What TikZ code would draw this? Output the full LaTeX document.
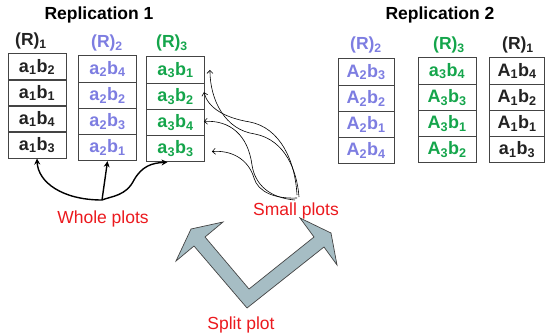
\documentclass[tikz,border=0pt]{standalone}
\usepackage{fontspec}
\setmainfont{Liberation Sans}
\usetikzlibrary{arrows.meta,calc}
\definecolor{ink}{HTML}{222222}
\definecolor{violetish}{RGB}{125,125,225}
\definecolor{greenish}{RGB}{20,165,75}
\definecolor{redlabel}{RGB}{235,25,30}
\definecolor{splitfill}{RGB}{166,189,196}
\definecolor{rulegray}{HTML}{444444}
\newcommand\sbs[1]{\textsubscript{#1}}
\begin{document}
\begin{tikzpicture}[x=1pt,y=-1pt,
  cell/.style={draw=rulegray,line width=0.9pt,minimum width=58pt,minimum height=26.2pt,
    inner sep=0pt,font=\fontsize{18}{20}\selectfont\bfseries},
  title/.style={font=\fontsize{17.5}{20}\selectfont\bfseries},
  rlabel/.style={font=\fontsize{17.5}{20}\selectfont\bfseries},
  note/.style={text=redlabel,font=\fontsize{17.5}{20}\selectfont},
  whole/.style={line width=1.4pt,-{Stealth[length=6pt,width=6pt]}},
  small/.style={line width=0.6pt,-{Straight Barb[length=3pt,width=6pt]}}]
\useasboundingbox (0,0) rectangle (545,334);

% Replication 1
\node[title] (rep1) at (99,15) {Replication 1};
\node[rlabel,text=ink] (r1a) at (31,41) {(R)\sbs{1}};
\node[rlabel,text=violetish] (r1b) at (107,43) {(R)\sbs{2}};
\node[rlabel,text=greenish] (r1c) at (172,43) {(R)\sbs{3}};

\node[cell,text=ink] (c11) at (37,67) {a\sbs{1}b\sbs{2}};
\node[cell,text=ink] (c12) at (37,93) {a\sbs{1}b\sbs{1}};
\node[cell,text=ink] (c13) at (37,119) {a\sbs{1}b\sbs{4}};
\node[cell,text=ink] (c14) at (37,145) {a\sbs{1}b\sbs{3}};

\node[cell,text=violetish] (c21) at (107.5,69) {a\sbs{2}b\sbs{4}};
\node[cell,text=violetish] (c22) at (107.5,95.2) {a\sbs{2}b\sbs{2}};
\node[cell,text=violetish] (c23) at (107.5,121.4) {a\sbs{2}b\sbs{3}};
\node[cell,text=violetish] (c24) at (107.5,147.6) {a\sbs{2}b\sbs{1}};

\node[cell,text=greenish] (c31) at (175.5,70) {a\sbs{3}b\sbs{1}};
\node[cell,text=greenish] (c32) at (175.5,96.2) {a\sbs{3}b\sbs{2}};
\node[cell,text=greenish] (c33) at (175.5,122.4) {a\sbs{3}b\sbs{4}};
\node[cell,text=greenish] (c34) at (175.5,148.6) {a\sbs{3}b\sbs{3}};

% Replication 2
\node[title] (rep2) at (440,15) {Replication 2};
\node[rlabel,text=violetish] (r2a) at (366,45) {(R)\sbs{2}};
\node[rlabel,text=greenish] (r2b) at (449,45) {(R)\sbs{3}};
\node[rlabel,text=ink] (r2c) at (518,45) {(R)\sbs{1}};

\node[cell,text=violetish,minimum width=56pt] (d11) at (366,72) {A\sbs{2}b\sbs{3}};
\node[cell,text=violetish,minimum width=56pt] (d12) at (366,98.2) {A\sbs{2}b\sbs{2}};
\node[cell,text=violetish,minimum width=56pt] (d13) at (366,124.4) {A\sbs{2}b\sbs{1}};
\node[cell,text=violetish,minimum width=56pt] (d14) at (366,150.6) {A\sbs{2}b\sbs{4}};

\node[cell,text=greenish] (d21) at (447,71) {a\sbs{3}b\sbs{4}};
\node[cell,text=greenish] (d22) at (447,97.2) {A\sbs{3}b\sbs{3}};
\node[cell,text=greenish] (d23) at (447,123.4) {A\sbs{3}b\sbs{1}};
\node[cell,text=greenish] (d24) at (447,149.6) {A\sbs{3}b\sbs{2}};

\node[cell,text=ink,minimum width=55pt] (d31) at (517,71) {A\sbs{1}b\sbs{4}};
\node[cell,text=ink,minimum width=55pt] (d32) at (517,97.2) {A\sbs{1}b\sbs{2}};
\node[cell,text=ink,minimum width=55pt] (d33) at (517,123.4) {A\sbs{1}b\sbs{1}};
\node[cell,text=ink,minimum width=55pt] (d34) at (517,149.6) {a\sbs{1}b\sbs{3}};

% Labels
\node[note] (wholelbl) at (103,219) {Whole plots};
\node[note] (smalllbl) at (296,211) {Small plots};
\node[note] (splitlbl) at (241,325) {Split plot};

% Whole-plot arrows
\coordinate (wp) at (102,200);
\draw[whole] (wp) .. controls (62,200) and (38,182) .. (c14.south);
\draw[whole] (wp) -- (c24.south);
\draw[whole] (wp) .. controls (112,196) and (126,196) .. (134,180)
  .. controls (142,166) and (152,163) .. ($(c34.south)+(-8,0)$);

% Small-plot arrows
\coordinate (sp) at (297,198);
\draw[small] ($(sp)+(2,-1)$) .. controls (297,170) and (285,140) .. (255,134)
  .. controls (225,130) and (210,100) .. ($(c31.east)+(5,0)$);
\draw[small] ($(sp)+(0,-3)$) .. controls (295,160) and (280,128) .. (250,122)
  .. controls (225,118) and (208,108) .. ($(c32.east)+(-1,-4)$);
\draw[small] ($(sp)+(-2,2)$) .. controls (270,198) and (255,185) .. (252,165)
  .. controls (248,135) and (230,120) .. ($(c33.east)+(-1,-1)$);
\draw[small] (sp) .. controls (275,199) and (258,192) .. (254,178)
  .. controls (248,158) and (230,150) .. ($(c34.east)+(7,3)$);

% Split-plot double arrow
\draw[draw=rulegray,line width=0.7pt,fill=splitfill,line join=miter]
  (191,229) -- (223,222) -- (205,237) -- (249,289) -- (314,237) -- (300,218)
  -- (331,233) -- (337,265) -- (324,247) -- (247,308) -- (194,246) -- (176,261) -- cycle;
\end{tikzpicture}
\end{document}
